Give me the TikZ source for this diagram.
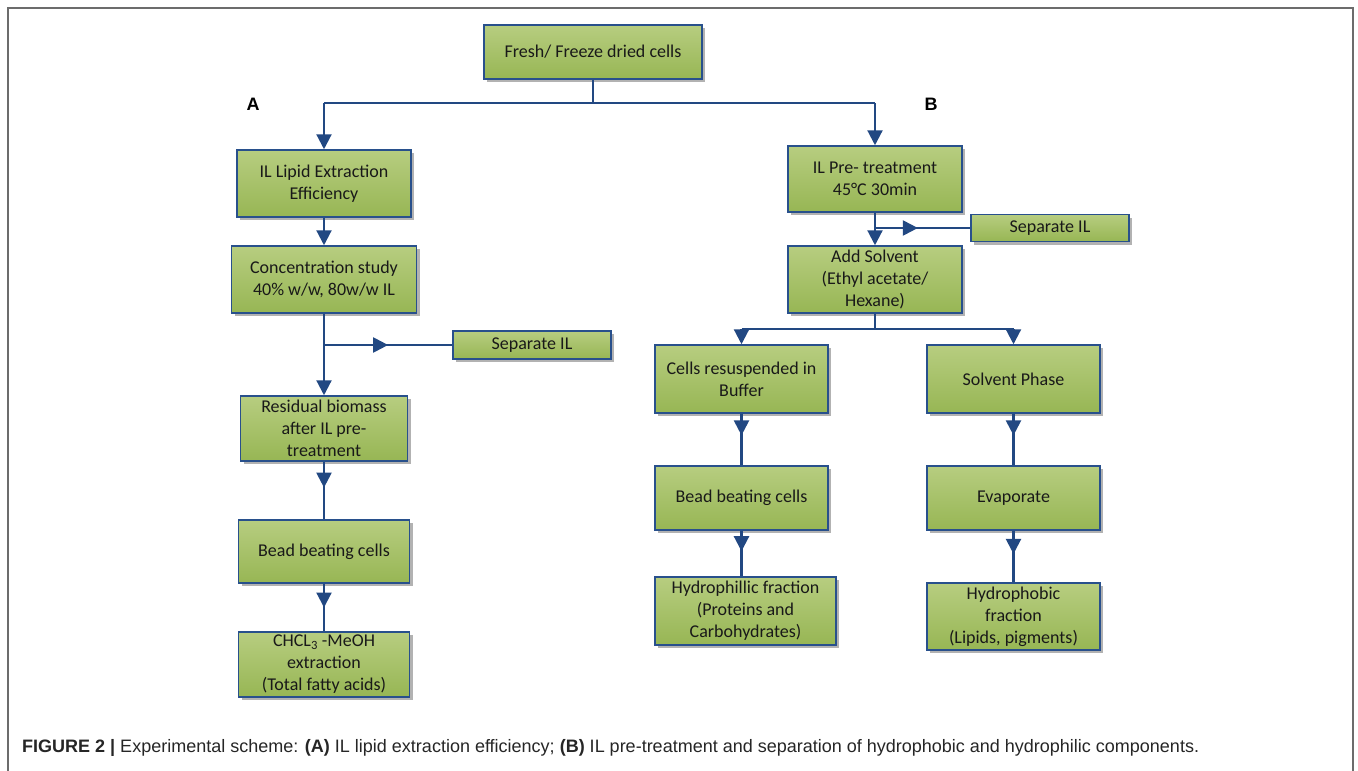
\documentclass[tikz,border=0pt]{standalone}
\usepackage{fontspec}
\usetikzlibrary{arrows.meta,shadows,decorations.markings}
\newfontfamily\carl{Carlito}
\newfontfamily\capfont{Liberation Sans}
\newfontfamily\lblfont{Liberation Sans}
\definecolor{boxtop}{RGB}{183,205,128}
\definecolor{boxbot}{RGB}{151,182,84}
\definecolor{boxedge}{RGB}{40,80,140}
\definecolor{flow}{RGB}{34,72,130}
\definecolor{txt}{RGB}{25,25,25}
\tikzset{
  box/.style={draw=boxedge, line width=1.5pt, top color=boxtop, bottom color=boxbot,
    align=center, inner sep=2pt, text=txt, font={\carl\fontsize{18}{22}\selectfont},
    drop shadow={shadow xshift=3pt, shadow yshift=-3pt, fill=black, opacity=0.3}},
  line/.style={draw=flow, line width=2.2pt},
  arr/.style={line, -{Triangle[width=15pt,length=15pt]}},
  midarr/.style={line, decoration={markings, mark=at position #1 with {\arrow[flow]{Triangle[width=15pt,length=15pt]}}}, postaction=decorate},
  midarr/.default=0.5,
  lbl/.style={font={\lblfont\bfseries\fontsize{18}{20}\selectfont}, text=black}
}
\begin{document}
\begin{tikzpicture}[x=1pt,y=-1pt]
\useasboundingbox (0,0) rectangle (1358,771);
\fill[white] (0,0) rectangle (1358,771);
\draw[gray!85!black, line width=1.5pt] (8,771) -- (8,8) -- (1353,8) -- (1353,771);

% boxes
\node[box, minimum width=218pt, minimum height=54pt] (top) at (593,52) {Fresh/ Freeze dried cells};
\node[box, minimum width=174pt, minimum height=67pt] (L1) at (324,183.5) {IL Lipid Extraction\\Efficiency};
\node[box, minimum width=185pt, minimum height=67pt] (L2) at (324,279.5) {Concentration study\\40\% w/w, 80w/w IL};
\node[box, minimum width=158pt, minimum height=28pt] (sepL) at (532,345) {Separate IL};
\node[box, minimum width=167pt, minimum height=65pt] (L3) at (324,428.5) {Residual biomass\\after IL pre-\\treatment};
\node[box, minimum width=171pt, minimum height=63pt] (L4) at (324,551.5) {Bead beating cells};
\node[box, minimum width=171pt, minimum height=65pt] (L5) at (324,664.5) {CHCL\textsubscript{3} -MeOH\\extraction\\(Total fatty acids)};

\node[box, minimum width=174pt, minimum height=66pt] (R1) at (875,179) {IL Pre- treatment\\45°C 30min};
\node[box, minimum width=158pt, minimum height=27pt] (sepR) at (1050,228) {Separate IL};
\node[box, minimum width=174pt, minimum height=67pt] (R2) at (875,279.5) {Add Solvent\\(Ethyl acetate/\\Hexane)};
\node[box, minimum width=173pt, minimum height=68pt] (R3) at (741.5,379) {Cells resuspended in\\Buffer};
\node[box, minimum width=173pt, minimum height=68pt] (R4) at (1013.5,379) {Solvent Phase};
\node[box, minimum width=173pt, minimum height=64pt] (R5) at (741.5,498) {Bead beating cells};
\node[box, minimum width=173pt, minimum height=64pt] (R6) at (1013.5,498) {Evaporate};
\node[box, minimum width=181pt, minimum height=68pt] (R7) at (745.5,611) {Hydrophillic fraction\\(Proteins and\\Carbohydrates)};
\node[box, minimum width=173pt, minimum height=67pt] (R8) at (1013.5,616.5) {Hydrophobic\\fraction\\(Lipids, pigments)};

% labels
\node[lbl] (A) at (253,104) {A};
\node[lbl] (B) at (931,104) {B};

% connectors
\coordinate (j0) at (593,103);
\coordinate (jl) at (L1.north |- j0);
\coordinate (jr) at (R1.north |- j0);
\draw[line] (top.south) -- (j0);
\draw[line] (jl) -- (jr);
\draw[arr] (jl) -- (L1.north);
\draw[arr] (jr) -- (R1.north);

\draw[arr] (L1.south) -- (L2.north);
\coordinate (jL) at (L2.south |- sepL.west);
\draw[arr] (L2.south) -- (L3.north);
\draw[midarr=0.5] (jL) -- (sepL.west);
\draw[midarr=0.45] (L3.south) -- (L4.north);
\draw[midarr=0.5] (L4.south) -- (L5.north);

\coordinate (jR) at (R1.south |- sepR.west);
\draw[arr] (R1.south) -- (R2.north);
\draw[midarr=0.45] (jR) -- (sepR.west);
\coordinate (jR2) at (875,329);
\coordinate (jR2a) at (R3.north |- jR2);
\coordinate (jR2b) at (R4.north |- jR2);
\draw[line] (R2.south) -- (jR2);
\draw[line] (jR2a) -- (jR2b);
\draw[arr] (jR2a) -- (R3.north);
\draw[arr] (jR2b) -- (R4.north);
\draw[midarr=0.42] (R3.south) -- (R5.north);
\draw[midarr=0.45] (R5.south) -- (R5.south |- R7.north);
\draw[midarr=0.42] (R4.south) -- (R6.north);
\draw[midarr=0.45] (R6.south) -- (R6.south |- R8.north);

% caption
\node[anchor=base west, inner sep=0pt, font={\capfont\fontsize{18}{20}\selectfont}, text=black!85] (cap) at (22,752)
 {\textbf{FIGURE 2 |} Experimental scheme: \textbf{(A)} IL lipid extraction efficiency; \textbf{(B)} IL pre-treatment and separation of hydrophobic and hydrophilic components.};
\end{tikzpicture}
\end{document}
